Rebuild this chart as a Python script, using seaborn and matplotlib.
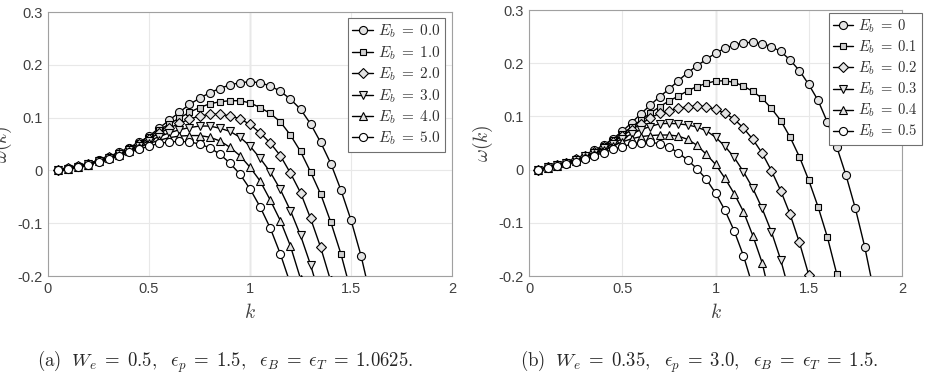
import matplotlib
matplotlib.use("Agg")
import matplotlib.pyplot as plt
import seaborn as sns
import pandas as pd

# ---------------- data ----------------
K = [0.05, 0.10, 0.15, 0.20, 0.25, 0.30, 0.35, 0.40, 0.45, 0.50,
     0.55, 0.60, 0.65, 0.70, 0.75, 0.80, 0.85, 0.90, 0.95, 1.00,
     1.05, 1.10, 1.15, 1.20, 1.25, 1.30, 1.35, 1.40, 1.45, 1.50,
     1.55, 1.60, 1.65, 1.70, 1.75, 1.80, 1.85]

# panel (a)
a_labels = [r"$E_b\;=\;0.0$", r"$E_b\;=\;1.0$", r"$E_b\;=\;2.0$",
            r"$E_b\;=\;3.0$", r"$E_b\;=\;4.0$", r"$E_b\;=\;5.0$"]
a_eb0 = [0.000, 0.004, 0.008, 0.013, 0.019, 0.026, 0.034, 0.043, 0.053, 0.065,
         0.080, 0.095, 0.110, 0.125, 0.1365, 0.147, 0.155, 0.162, 0.166, 0.168,
         0.166, 0.160, 0.150, 0.135, 0.116, 0.088, 0.053, 0.013, -0.037, -0.094,
         -0.162, -0.245]
a_eb1 = [0.000, 0.004, 0.008, 0.013, 0.019, 0.026, 0.033, 0.042, 0.052, 0.063,
         0.076, 0.088, 0.099, 0.110, 0.119, 0.126, 0.130, 0.132, 0.132, 0.128,
         0.119, 0.108, 0.092, 0.067, 0.036, -0.003, -0.045, -0.098, -0.158, -0.230]
a_eb2 = [0.000, 0.004, 0.008, 0.012, 0.018, 0.025, 0.032, 0.041, 0.050, 0.060,
         0.070, 0.080, 0.089, 0.097, 0.103, 0.106, 0.107, 0.103, 0.098, 0.087,
         0.071, 0.052, 0.028, -0.005, -0.042, -0.091, -0.146, -0.210]
a_eb3 = [0.000, 0.003, 0.007, 0.012, 0.018, 0.024, 0.031, 0.039, 0.047, 0.056,
         0.064, 0.071, 0.077, 0.081, 0.084, 0.084, 0.080, 0.074, 0.063, 0.046,
         0.023, -0.003, -0.036, -0.076, -0.123, -0.179, -0.245]
a_eb4 = [0.000, 0.003, 0.007, 0.011, 0.017, 0.023, 0.030, 0.037, 0.044, 0.051,
         0.057, 0.062, 0.065, 0.066, 0.066, 0.063, 0.056, 0.044, 0.028, 0.006,
         -0.020, -0.056, -0.095, -0.143, -0.205]
a_eb5 = [0.000, 0.003, 0.007, 0.011, 0.016, 0.021, 0.027, 0.034, 0.040, 0.046,
         0.051, 0.054, 0.055, 0.054, 0.050, 0.043, 0.031, 0.014, -0.007, -0.035,
         -0.069, -0.109, -0.158, -0.215]

# panel (b)
b_labels = [r"$E_b\;=\;0$", r"$E_b\;=\;0.1$", r"$E_b\;=\;0.2$",
            r"$E_b\;=\;0.3$", r"$E_b\;=\;0.4$", r"$E_b\;=\;0.5$"]
b_eb0 = [0.000, 0.004, 0.008, 0.013, 0.019, 0.026, 0.036, 0.046, 0.058, 0.072,
         0.088, 0.105, 0.121, 0.137, 0.151, 0.167, 0.182, 0.195, 0.207, 0.219,
         0.228, 0.234, 0.2385, 0.239, 0.237, 0.231, 0.222, 0.206, 0.186, 0.160,
         0.130, 0.089, 0.043, -0.011, -0.073, -0.145, -0.230]
b_eb1 = [0.000, 0.004, 0.008, 0.013, 0.019, 0.026, 0.034, 0.044, 0.055, 0.067,
         0.080, 0.093, 0.106, 0.118, 0.129, 0.138, 0.148, 0.156, 0.162, 0.1665,
         0.167, 0.164, 0.157, 0.147, 0.134, 0.115, 0.092, 0.061, 0.024, -0.020,
         -0.070, -0.127, -0.196, -0.270]
b_eb2 = [0.000, 0.004, 0.008, 0.013, 0.019, 0.025, 0.033, 0.042, 0.052, 0.063,
         0.075, 0.086, 0.097, 0.106, 0.111, 0.115, 0.118, 0.1195, 0.118, 0.113,
         0.106, 0.095, 0.078, 0.057, 0.031, -0.002, -0.040, -0.084, -0.137, -0.198,
         -0.270]
b_eb3 = [0.000, 0.004, 0.008, 0.012, 0.018, 0.025, 0.032, 0.040, 0.049, 0.058,
         0.067, 0.075, 0.081, 0.086, 0.087, 0.086, 0.084, 0.080, 0.073, 0.061,
         0.044, 0.023, -0.004, -0.035, -0.073, -0.117, -0.170, -0.235]
b_eb4 = [0.000, 0.003, 0.007, 0.012, 0.017, 0.023, 0.030, 0.037, 0.045, 0.052,
         0.058, 0.062, 0.064, 0.065, 0.065, 0.063, 0.057, 0.046, 0.029, 0.010,
         -0.016, -0.045, -0.079, -0.124, -0.175, -0.250]
b_eb5 = [0.000, 0.003, 0.006, 0.010, 0.015, 0.020, 0.026, 0.032, 0.038, 0.043,
         0.048, 0.050, 0.051, 0.049, 0.042, 0.032, 0.018, 0.002, -0.018, -0.044,
         -0.076, -0.115, -0.162, -0.220]

x_ticks = [0, 0.5, 1, 1.5, 2]
x_tick_labels = ["0", "0.5", "1", "1.5", "2"]
y_ticks = [-0.2, -0.1, 0, 0.1, 0.2, 0.3]
y_tick_labels = ["-0.2", "-0.1", "0", "0.1", "0.2", "0.3"]

captions = [r"$\mathrm{(a)}\ \ W_e\;=\;0.5,\ \ \epsilon_p\;=\;1.5,\ \ \epsilon_B\;=\;\epsilon_T\;=\;1.0625.$",
            r"$\mathrm{(b)}\ \ W_e\;=\;0.35,\ \ \epsilon_p\;=\;3.0,\ \ \epsilon_B\;=\;\epsilon_T\;=\;1.5.$"]

# ---------------- style ----------------
sns.set_style("white")
plt.rcParams["font.family"] = ["Liberation Sans", "DejaVu Sans"]
plt.rcParams["mathtext.fontset"] = "cm"

markers = ["o", "s", "D", "v", "^", "o"]
msizes = [5.8, 5.0, 5.0, 6.2, 6.2, 5.8]
faces = ["#e4e4e4", "#d0d0d0", "#e4e4e4", "#e4e4e4", "#e4e4e4", "#ffffff"]

fig = plt.figure(figsize=(9.27, 3.78), dpi=100)
ax_a = fig.add_axes([48 / 927, 102 / 378, 404 / 927, 264 / 378])
ax_b = fig.add_axes([529 / 927, 102 / 378, 373 / 927, 266 / 378])

panels = [
    (ax_a, a_labels, [a_eb0, a_eb1, a_eb2, a_eb3, a_eb4, a_eb5], (0.983, 0.977), 11),
    (ax_b, b_labels, [b_eb0, b_eb1, b_eb2, b_eb3, b_eb4, b_eb5], (1.054, 0.989), 10.5),
]

for ax, labels, series, anchor, lfs in panels:
    ax.axvline(1.0, color="#a8a8a8", lw=0.9, zorder=0.5)
    for i, (lab, w) in enumerate(zip(labels, series)):
        df = pd.DataFrame({"k": K[:len(w)], "w": w})
        sns.lineplot(data=df, x="k", y="w", ax=ax, color="black", lw=1.0,
                     marker=markers[i], markersize=msizes[i],
                     markerfacecolor=faces[i], markeredgecolor="black",
                     markeredgewidth=0.8, label=lab, legend=False, zorder=3)
    ax.set_xlim(0, 2)
    ax.set_ylim(-0.2, 0.3)
    ax.set_xticks(x_ticks)
    ax.set_xticklabels(x_tick_labels)
    ax.set_yticks(y_ticks)
    ax.set_yticklabels(y_tick_labels)
    ax.grid(True, color="#e8e8e8", lw=0.8)
    ax.set_axisbelow(True)
    for s in ax.spines.values():
        s.set_color("#a0a0a0")
        s.set_linewidth(0.8)
    ax.tick_params(axis="both", labelsize=10.5, labelcolor="#404040",
                   direction="in", length=3, color="#a0a0a0", pad=4)
    ax.set_xlabel("$k$", fontsize=14, color="#404040", labelpad=5)
    ax.set_ylabel(r"$\omega(k)$", fontsize=14, color="#404040", labelpad=2)
    leg = ax.legend(loc="upper right", bbox_to_anchor=anchor, borderaxespad=0,
                    fontsize=lfs, frameon=True, fancybox=False, framealpha=1,
                    edgecolor="#707070", handlelength=1.4, handletextpad=0.3,
                    labelspacing=0.25, borderpad=0.3)
    leg.get_frame().set_linewidth(0.8)
    for t in leg.get_texts():
        t.set_color("#303030")

fig.text(225 / 927, 1 - 362 / 378, captions[0], ha="center", va="center", fontsize=13.5)
fig.text(699 / 927, 1 - 362 / 378, captions[1], ha="center", va="center", fontsize=13.5)

fig.savefig("out.png", dpi=100)
